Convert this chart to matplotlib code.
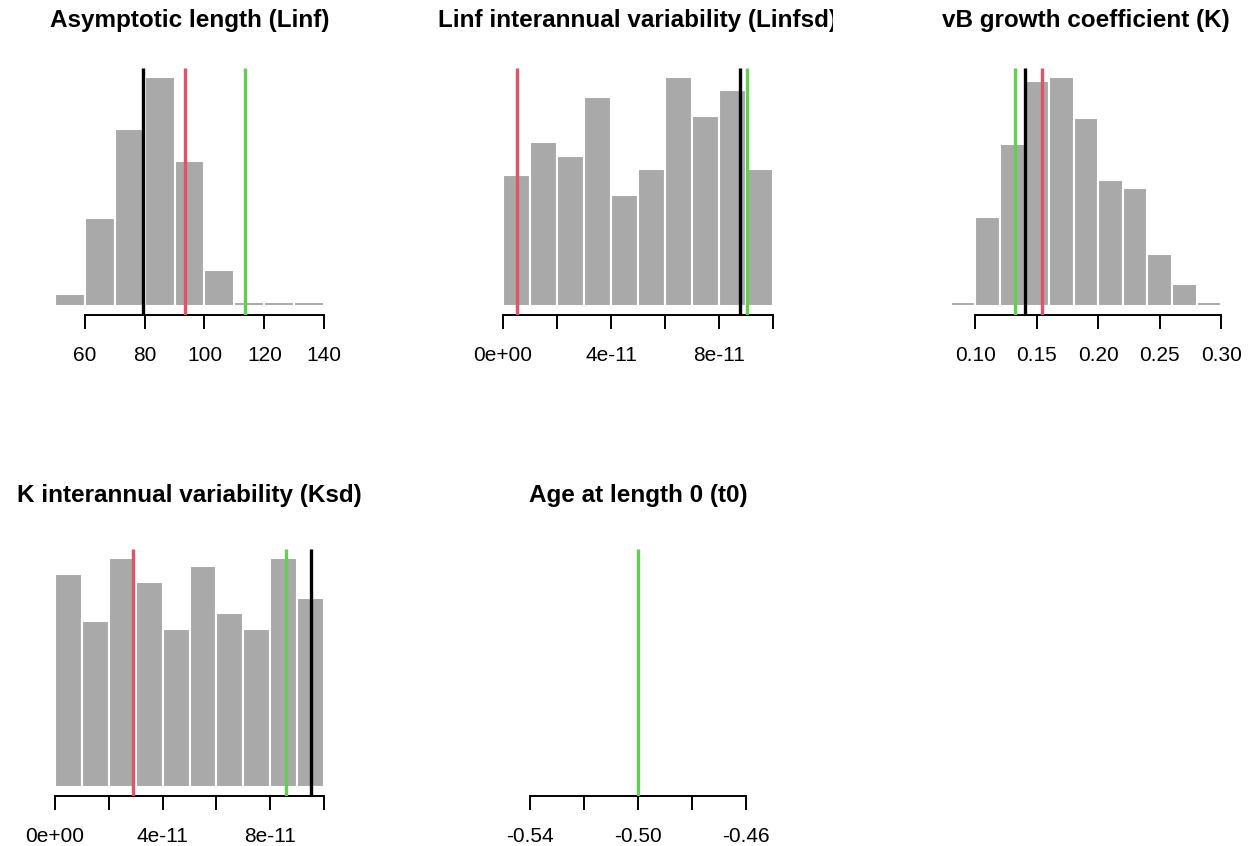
import matplotlib
matplotlib.use("Agg")
import numpy as np
import matplotlib.pyplot as plt
from matplotlib.transforms import Bbox, TransformedBbox

plt.rcParams['font.family'] = ['Liberation Sans', 'DejaVu Sans']

# ___DATA___ #
# Histogram bin edges and counts for each parameter.
linf_breaks = [50, 60, 70, 80, 90, 100, 110, 120, 130, 140]
linf_counts = [3, 22, 44, 57, 36, 9, 1, 1, 1]

linfsd_breaks = [0, 1e-11, 2e-11, 3e-11, 4e-11, 5e-11, 6e-11, 7e-11, 8e-11, 9e-11, 1e-10]
linfsd_counts = [20, 25, 23, 32, 17, 21, 35, 29, 33, 21]

k_breaks = [0.08, 0.10, 0.12, 0.14, 0.16, 0.18, 0.20, 0.22, 0.24, 0.26, 0.28, 0.30]
k_counts = [1, 24, 44, 61, 62, 51, 34, 32, 14, 6, 1]

ksd_breaks = [0, 1e-11, 2e-11, 3e-11, 4e-11, 5e-11, 6e-11, 7e-11, 8e-11, 9e-11, 1e-10]
ksd_counts = [27, 21, 29, 26, 20, 28, 22, 20, 29, 24]

t0_breaks = []
t0_counts = []

# Vertical reference lines, in the order black, red, green (nan = not drawn).
linf_lines = [79.5, 93.4, 113.5]
linfsd_lines = [8.78e-11, 5.2e-12, 9.02e-11]
k_lines = [0.140, 0.154, 0.132]
ksd_lines = [9.51e-11, 2.91e-11, 8.57e-11]
t0_lines = [np.nan, np.nan, -0.5]

# Axis ticks and the labels R decided to keep.
linf_ticks = [60, 80, 100, 120, 140]
linf_labels = ["60", "80", "100", "120", "140"]
sd_ticks = [0, 2e-11, 4e-11, 6e-11, 8e-11, 1e-10]
sd_labels = ["0e+00", "", "4e-11", "", "8e-11", ""]
k_ticks = [0.10, 0.15, 0.20, 0.25, 0.30]
k_labels = ["0.10", "0.15", "0.20", "0.25", "0.30"]
t0_ticks = [-0.54, -0.52, -0.50, -0.48, -0.46]
t0_labels = ["-0.54", "", "-0.50", "", "-0.46"]

line_colors = ["black", "#DF536B", "#61D04F"]
bar_color = "#A9A9A9"

W, H = 1250, 846
fig = plt.figure(figsize=(W / 100, H / 100), dpi=100)
fig.patch.set_facecolor("white")


def add_panel(rect, title, breaks, counts, lines, ticks, labels, title_pad, xlim=None, clip_title=None):
    left, top, right, bottom = rect
    ax = fig.add_axes([left / W, (H - bottom) / H, (right - left) / W, (bottom - top) / H])

    if len(counts):
        widths = np.diff(breaks)
        ax.bar(breaks[:-1], counts, width=widths, align="edge", color=bar_color,
               edgecolor="white", linewidth=1.5, zorder=1)
        top_count = max(counts)
        ax.set_ylim(-0.04 * top_count, 1.04 * top_count)
        span = breaks[-1] - breaks[0]
        ax.set_xlim(breaks[0] - 0.04 * span, breaks[-1] + 0.04 * span)
    else:
        ax.set_ylim(0, 1)
    if xlim is not None:
        ax.set_xlim(*xlim)

    for value, color in zip(lines, line_colors):
        if not np.isnan(value):
            ax.axvline(value, color=color, lw=2.4, solid_capstyle="butt", zorder=3)

    # R style axis: only the bottom line, running from first to last tick
    for side in ["top", "left", "right"]:
        ax.spines[side].set_visible(False)
    ax.spines["bottom"].set_bounds(ticks[0], ticks[-1])
    ax.spines["bottom"].set_linewidth(1.4)
    ax.set_xticks(ticks)
    ax.set_xticklabels(labels)
    ax.set_yticks([])
    ax.tick_params(axis="x", length=10, width=1.4, pad=12, labelsize=15)
    ax.patch.set_alpha(0)

    t = ax.set_title(title, fontsize=17.5, fontweight="bold", pad=title_pad)
    if clip_title is not None:
        t.set_clip_box(TransformedBbox(Bbox(clip_title), fig.transFigure))
        t.set_clip_on(True)
    return ax


add_panel((44, 68, 335, 315), "Asymptotic length (Linf)", linf_breaks, linf_counts,
          linf_lines, linf_ticks, linf_labels, 29.5)
add_panel((492, 68, 784, 315), "Linf interannual variability (Linfsd)", linfsd_breaks,
          linfsd_counts, linfsd_lines, sd_ticks, sd_labels, 29.5,
          clip_title=[[1 / 3, 0.5], [2 / 3, 1]])
add_panel((940, 68, 1232, 315), "vB growth coefficient (K)", k_breaks, k_counts,
          k_lines, k_ticks, k_labels, 29.5)
add_panel((44, 549, 335, 796), "K interannual variability (Ksd)", ksd_breaks, ksd_counts,
          ksd_lines, sd_ticks, sd_labels, 33.8)
add_panel((492, 549, 784, 796), "Age at length 0 (t0)", t0_breaks, t0_counts,
          t0_lines, t0_ticks, t0_labels, 33.8, xlim=(-0.554, -0.446))

fig.savefig("out.png", dpi=100, facecolor="white")
